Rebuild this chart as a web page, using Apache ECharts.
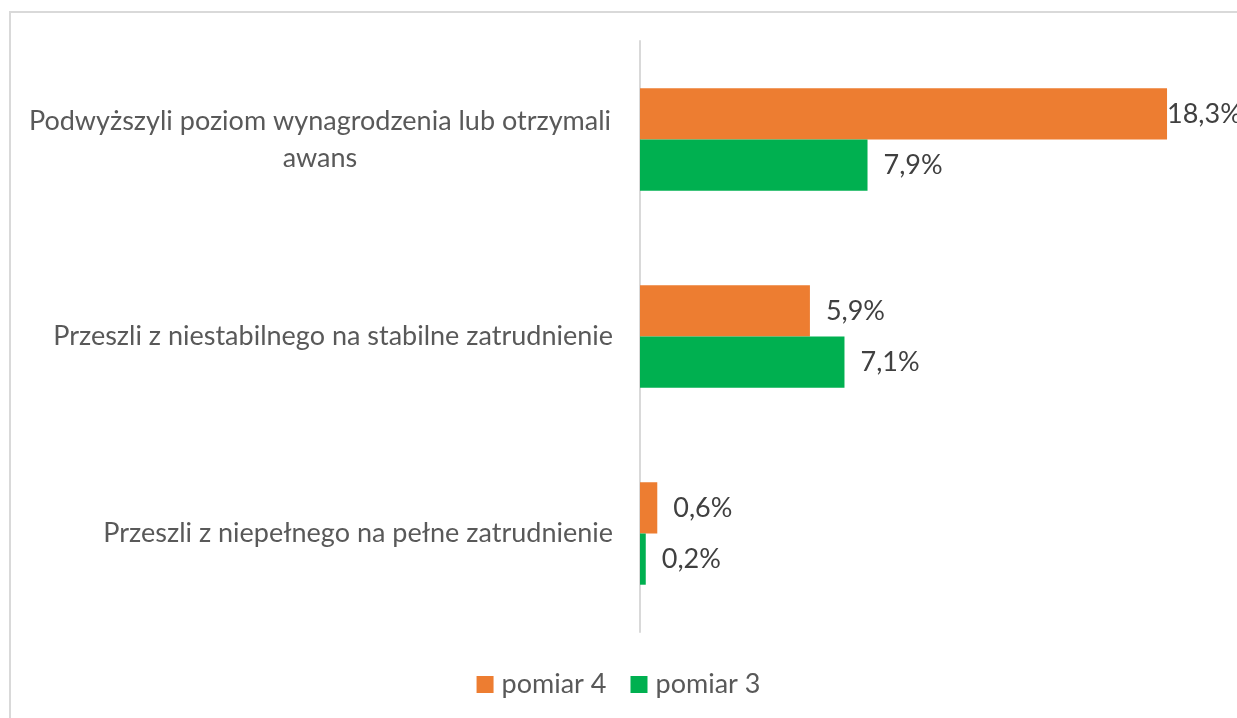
<!DOCTYPE html>
<html>
<head>
<meta charset="utf-8">
<title>pomiar 3 / pomiar 4</title>
<script src="https://cdn.jsdelivr.net/npm/echarts@6/dist/echarts.min.js"></script>
<style>
    html, body { margin: 0; padding: 0; background: #fff; }
    #chart { width: 1237px; height: 718px; }
</style>
</head>
<body>
<div id="chart"></div>
<script>
    // categories (top to bottom)
    var categories = [
        'Podwyższyli poziom wynagrodzenia lub otrzymali\nawans',
        'Przeszli z niestabilnego na stabilne zatrudnienie',
        'Przeszli z niepełnego na pełne zatrudnienie'
    ]
    var seriesNames = ['pomiar 4', 'pomiar 3']
    var pomiar4 = [18.3, 5.9, 0.6]
    var pomiar3 = [7.9, 7.1, 0.2]

    var FONT = 'Lato'
    var FS = 27
    var colors = ['#ED7D31', '#00B050']

    var chart = echarts.init(document.getElementById('chart'))

    function pct(v) {
        return v.toFixed(1).replace('.', ',') + '%'
    }

    // the longest bar's label sits right at its end (as in the original)
    function toItems(arr) {
        return arr.map(function (v) {
            return v > 15 ? { value: v, label: { distance: 0 } } : v
        })
    }

    function barSeries(name, data, color) {
        return {
            name: name,
            type: 'bar',
            data: toItems(data),
            barGap: '0%',
            barCategoryGap: '48%',
            itemStyle: { color: color },
            label: {
                show: true,
                position: 'right',
                distance: 16,
                color: '#404040',
                fontFamily: FONT,
                fontSize: FS,
                formatter: function (p) { return pct(p.value) }
            }
        }
    }

    chart.setOption({
        animation: false,
        graphic: [{
            type: 'rect',
            shape: { x: 10, y: 12, width: 1400, height: 900 },
            style: { fill: 'none', stroke: '#d9d9d9', lineWidth: 2 },
            silent: true
        }],
        legend: {
            data: seriesNames,
            bottom: 15,
            left: 'center',
            itemWidth: 17,
            itemHeight: 17,
            itemGap: 24,
            icon: 'rect',
            textStyle: { color: '#595959', fontFamily: FONT, fontSize: FS, padding: [0, 0, 0, 3] }
        },
        grid: { left: 640, right: 21, top: 41, bottom: 86 },
        xAxis: {
            type: 'value',
            min: 0,
            max: 20,
            show: false
        },
        yAxis: {
            type: 'category',
            data: categories,
            inverse: true,
            axisLine: { lineStyle: { color: '#d9d9d9', width: 2 } },
            axisTick: { show: false },
            axisLabel: {
                margin: 27,
                color: '#595959',
                fontFamily: FONT,
                fontSize: FS,
                lineHeight: 37,
                formatter: function (v) {
                    if (v.indexOf('\n') < 0) return v
                    return v.split('\n').map(function (s) { return '{c|' + s + '}' }).join('\n')
                },
                rich: {
                    c: { width: 586, align: 'center', color: '#595959', fontFamily: FONT, fontSize: FS, lineHeight: 37 }
                }
            }
        },
        series: [
            barSeries(seriesNames[0], pomiar4, colors[0]),
            barSeries(seriesNames[1], pomiar3, colors[1])
        ]
    })
</script>
</body>
</html>
